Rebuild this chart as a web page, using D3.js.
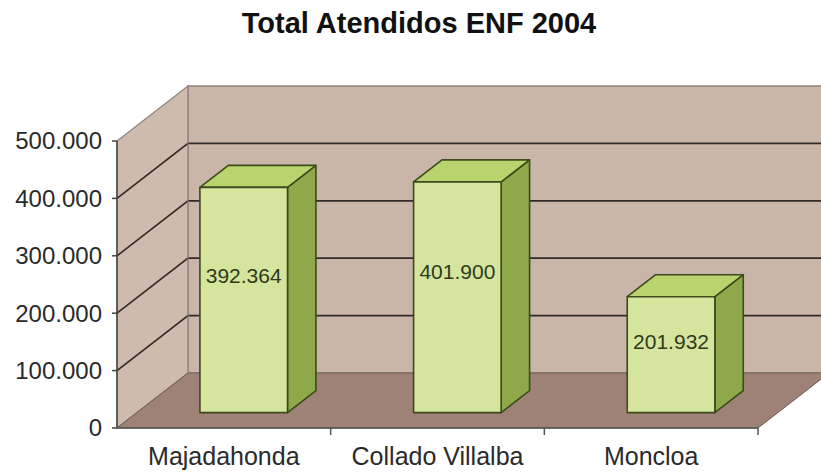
<!DOCTYPE html>
<html lang="es">
<head>
<meta charset="UTF-8">
<title>Total Atendidos ENF 2004</title>
<script src="https://d3js.org/d3.v7.min.js"></script>
<style>
    body { margin: 0; background: #fff; }
    svg { display: block; font-family: "Liberation Sans", Arial, sans-serif; }
</style>
</head>
<body>
<svg width="821" height="475"></svg>
<script>
    const title = "Total Atendidos ENF 2004";
    const categories = ["Majadahonda", "Collado Villalba", "Moncloa"];
    const values = [392364, 401900, 201932];
    const yTicks = [0, 100000, 200000, 300000, 400000, 500000];

    const svg = d3.select("svg");
    const es = d3.formatLocale({decimal: ",", thousands: ".", grouping: [3], currency: ["", " €"]});
    const fmt = es.format(",d");

    // front plane of the plot + the 3D depth offset
    const pLeft = 117, pRight = 758, pBottom = 428, pTop = 141;
    const dX = 71, dY = -55;
    const f0 = 0.28, f1 = 0.68;   // bar depth (front / back) as a fraction of the box

    const x = d3.scaleBand().domain(categories).range([pLeft, pRight])
        .paddingInner(0.59).paddingOuter(0.295);
    const y = d3.scaleLinear().domain([0, 500000]).range([pBottom, pTop]);
    const yMax = y.domain()[1];

    const pts = p => p.map(d => d.join(",")).join(" ");

    // walls and floor
    svg.append("polygon")
        .attr("points", pts([[pLeft + dX, y(yMax) + dY], [pRight + dX, y(yMax) + dY], [pRight + dX, y(0) + dY], [pLeft + dX, y(0) + dY]]))
        .attr("fill", "#c9b6a8").attr("stroke", "#8e827c").attr("stroke-width", 1.5);
    svg.append("polygon")
        .attr("points", pts([[pLeft, y(0)], [pLeft, y(yMax)], [pLeft + dX, y(yMax) + dY], [pLeft + dX, y(0) + dY]]))
        .attr("fill", "#cfbbae").attr("stroke", "#8e827c").attr("stroke-width", 1.2);
    svg.append("polygon")
        .attr("points", pts([[pLeft, y(0)], [pRight, y(0)], [pRight + dX, y(0) + dY], [pLeft + dX, y(0) + dY]]))
        .attr("fill", "#9f8276").attr("stroke", "#6e5c55").attr("stroke-width", 1);

    // gridlines
    svg.selectAll(".grid")
        .data(yTicks.filter(t => t > 0 && t < yMax))
        .enter().append("polyline")
        .attr("points", t => pts([[pLeft, y(t)], [pLeft + dX, y(t) + dY], [pRight + dX, y(t) + dY]]))
        .attr("fill", "none").attr("stroke", "#332a28").attr("stroke-width", 1.7);
    svg.append("line")
        .attr("x1", pLeft + dX).attr("x2", pLeft + dX)
        .attr("y1", y(yMax) + dY).attr("y2", y(0) + dY)
        .attr("stroke", "#9a8c84").attr("stroke-width", 1);

    // value axis
    svg.append("line")
        .attr("x1", pLeft).attr("x2", pLeft).attr("y1", y(yMax)).attr("y2", y(0))
        .attr("stroke", "#444").attr("stroke-width", 1.5);
    const yt = svg.selectAll(".ytick").data(yTicks).enter().append("g");
    yt.append("line")
        .attr("x1", pLeft - 5).attr("x2", pLeft).attr("y1", d => y(d)).attr("y2", d => y(d))
        .attr("stroke", "#444").attr("stroke-width", 1.5);
    yt.append("text")
        .attr("x", pLeft - 15).attr("y", d => y(d))
        .attr("dy", "0.35em").attr("text-anchor", "end")
        .attr("font-size", 24).attr("fill", "#2a2a2a")
        .text(d => fmt(d));

    // category axis
    svg.append("line")
        .attr("x1", pLeft).attr("x2", pRight).attr("y1", y(0)).attr("y2", y(0))
        .attr("stroke", "#555").attr("stroke-width", 1.5);
    svg.selectAll(".xtick").data(categories).enter().append("line")
        .attr("x1", c => x(c) + x.bandwidth() + x.step() * x.paddingInner() / 2)
        .attr("x2", c => x(c) + x.bandwidth() + x.step() * x.paddingInner() / 2)
        .attr("y1", y(0)).attr("y2", y(0) + 7)
        .attr("stroke", "#555").attr("stroke-width", 1.5);
    svg.selectAll(".xlab").data(categories).enter().append("text")
        .attr("x", c => x(c) + x.bandwidth() / 2).attr("y", 465)
        .attr("text-anchor", "middle").attr("font-size", 25).attr("fill", "#2a2a2a")
        .text(c => c);

    // 3D bars
    const bw = x.bandwidth();
    const ddx = (f1 - f0) * dX, ddy = (f1 - f0) * dY;
    const bars = svg.selectAll(".bar")
        .data(categories.map((c, i) => ({c, v: values[i]})))
        .enter().append("g")
        .attr("stroke", "#3c4a1c").attr("stroke-width", 1.6).attr("stroke-linejoin", "round");
    const bx = d => x(d.c) + f0 * dX;
    const byTop = d => y(d.v) + f0 * dY;
    const byBot = () => y(0) + f0 * dY;
    bars.append("polygon")
        .attr("fill", "#8ea84a")
        .attr("points", d => pts([[bx(d) + bw, byTop(d)], [bx(d) + bw + ddx, byTop(d) + ddy],
            [bx(d) + bw + ddx, byBot() + ddy], [bx(d) + bw, byBot()]]));
    bars.append("polygon")
        .attr("fill", "#b9d46c")
        .attr("points", d => pts([[bx(d), byTop(d)], [bx(d) + ddx, byTop(d) + ddy],
            [bx(d) + bw + ddx, byTop(d) + ddy], [bx(d) + bw, byTop(d)]]));
    bars.append("rect")
        .attr("fill", "#d5e59d")
        .attr("x", bx).attr("y", byTop)
        .attr("width", bw).attr("height", d => byBot() - byTop(d));
    bars.append("text")
        .attr("stroke", "none")
        .attr("x", d => bx(d) + bw / 2)
        .attr("y", d => y(d.v * 0.61) + f0 * dY)
        .attr("dy", "0.35em").attr("text-anchor", "middle")
        .attr("font-size", 21).attr("fill", "#2f3a1c")
        .text(d => fmt(d.v));

    // title
    svg.append("text")
        .attr("x", 419).attr("y", 33)
        .attr("text-anchor", "middle").attr("font-size", 29).attr("font-weight", "bold")
        .attr("fill", "#111")
        .text(title);
</script>
</body>
</html>
